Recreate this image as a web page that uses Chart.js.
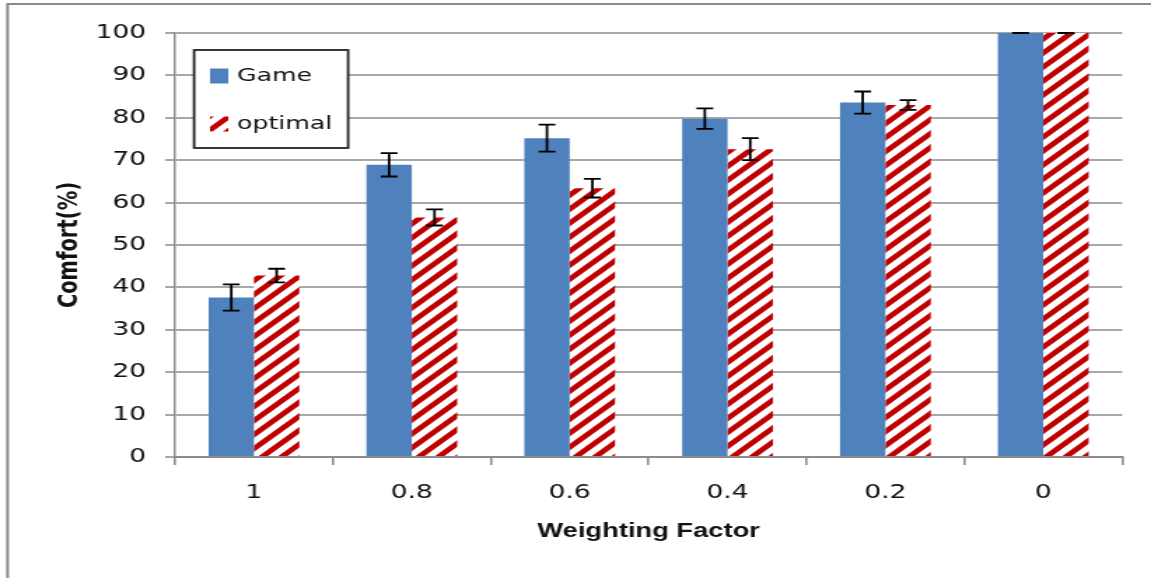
<!DOCTYPE html>
<html>
<head>
<meta charset="utf-8">
<script src="https://cdn.jsdelivr.net/npm/chart.js@4.4.1/dist/chart.umd.min.js"></script>
<style>
  html, body { margin: 0; padding: 0; background: #fff; }
</style>
</head>
<body>
<!-- el lienzo se dibuja a 822px y se estira a 1151px, como el gráfico original -->
<canvas id="grafico" width="822" height="578" style="width:1151px;height:578px;display:block"></canvas>
<script>
// =========================================================
// DATOS DEL GRÁFICO
// =========================================================
const categorias = ['1', '0.8', '0.6', '0.4', '0.2', '0'];
const valoresGame = [37.6, 68.9, 75.2, 79.8, 83.6, 100];
const erroresGame = [3.1, 2.75, 3.2, 2.4, 2.6, 0];
const valoresOptimal = [42.8, 56.5, 63.4, 72.6, 83.0, 100];
const erroresOptimal = [1.6, 1.9, 2.2, 2.6, 1.15, 0];
const ticksY = [0, 10, 20, 30, 40, 50, 60, 70, 80, 90, 100];

const AZUL = '#4f81bd';
const ROJO = '#c00000';
const TEXTO = '#111';

// Trama de rayas diagonales rojas sobre blanco
function crearTrama() {
    const P = 14;
    const c = document.createElement('canvas');
    c.width = P; c.height = P;
    const g = c.getContext('2d');
    g.fillStyle = '#fff';
    g.fillRect(0, 0, P, P);
    g.strokeStyle = ROJO;
    g.lineWidth = 4.6;
    g.beginPath();
    [0, P, 2 * P].forEach(k => {
        g.moveTo(-3, k + 3);
        g.lineTo(P + 3, k - P - 3);
    });
    g.stroke();
    return g.createPattern(c, 'repeat');
}

const canvas = document.getElementById('grafico');
const ctxGrafico = canvas.getContext('2d');
const trama = crearTrama();

// =========================================================
// PLUGINS: MARCO, BARRAS DE ERROR Y LEYENDA
// =========================================================
const pluginMarco = {
    id: 'marco',
    beforeDraw(chart) {
        const ctx = chart.ctx;
        ctx.save();
        ctx.strokeStyle = '#8a8a8a';
        ctx.lineWidth = 2;
        ctx.beginPath();
        ctx.moveTo(5.4, chart.height);
        ctx.lineTo(5.4, 4);
        ctx.lineTo(chart.width, 4);
        ctx.stroke();
        ctx.restore();
    }
};

const pluginErrores = {
    id: 'barrasError',
    afterDatasetsDraw(chart) {
        const ctx = chart.ctx;
        const escalaY = chart.scales.y;
        ctx.save();
        ctx.strokeStyle = '#000';
        ctx.lineWidth = 1.8;
        chart.data.datasets.forEach((ds, i) => {
            const meta = chart.getDatasetMeta(i);
            meta.data.forEach((barra, j) => {
                const v = ds.data[j];
                const e = ds.errores[j];
                const yArriba = escalaY.getPixelForValue(v + e);
                const yAbajo = escalaY.getPixelForValue(v - e);
                const x = barra.x;
                ctx.beginPath();
                ctx.moveTo(x, yArriba); ctx.lineTo(x, yAbajo);
                ctx.moveTo(x - 6, yArriba); ctx.lineTo(x + 6, yArriba);
                ctx.moveTo(x - 6, yAbajo); ctx.lineTo(x + 6, yAbajo);
                ctx.stroke();
            });
        });
        ctx.restore();
    }
};

const pluginLeyenda = {
    id: 'leyendaCaja',
    afterDraw(chart) {
        const ctx = chart.ctx;
        ctx.save();
        ctx.fillStyle = '#fff';
        ctx.fillRect(138.6, 50, 110, 98);
        ctx.strokeStyle = '#222';
        ctx.lineWidth = 1.8;
        ctx.strokeRect(138.6, 50, 110, 98);
        ctx.font = '18px "DejaVu Sans"';
        ctx.textBaseline = 'middle';
        ctx.textAlign = 'left';
        chart.data.datasets.forEach((ds, i) => {
            const yc = 76 + i * 48;
            ctx.fillStyle = ds.backgroundColor;
            ctx.fillRect(150, yc - 7.5, 13, 15);
            ctx.fillStyle = TEXTO;
            ctx.fillText(ds.label, 169.3, yc);
        });
        ctx.restore();
    }
};

// =========================================================
// GRÁFICO DE BARRAS
// =========================================================
new Chart(ctxGrafico, {
    type: 'bar',
    data: {
        labels: categorias,
        datasets: [
            { label: 'Game', data: valoresGame, errores: erroresGame, backgroundColor: AZUL, borderWidth: 0 },
            { label: 'optimal', data: valoresOptimal, errores: erroresOptimal, backgroundColor: trama, borderWidth: 0 }
        ]
    },
    options: {
        responsive: false,
        animation: false,
        devicePixelRatio: 1,
        layout: { padding: { left: 0, right: 20.6, top: 33, bottom: 0 } },
        datasets: { bar: { categoryPercentage: 0.575, barPercentage: 1.0 } },
        plugins: {
            legend: { display: false },
            tooltip: { enabled: false }
        },
        scales: {
            x: {
                grid: { drawOnChartArea: false, drawTicks: true, tickLength: 8, color: '#8c8c8c', lineWidth: 1.6 },
                border: { color: '#8c8c8c', width: 2 },
                ticks: { color: TEXTO, padding: 16.6, font: { family: 'DejaVu Sans', size: 19 } },
                title: {
                    display: true, text: 'Weighting Factor', color: TEXTO,
                    font: { family: 'Liberation Sans', size: 19.5, weight: 'bold' },
                    padding: { top: 0, bottom: 34.8 }
                },
                afterFit: s => { s.height = 121; }
            },
            y: {
                min: 0, max: 100,
                afterBuildTicks: s => { s.ticks = ticksY.map(v => ({ value: v })); },
                grid: { color: '#a8a8a8', lineWidth: 2, tickLength: 7 },
                border: { color: '#8c8c8c', width: 1.5 },
                ticks: { color: TEXTO, padding: 13.6, font: { family: 'DejaVu Sans', size: 19 } },
                title: {
                    display: true, text: 'Comfort(%)', color: TEXTO,
                    font: { family: 'DejaVu Sans', size: 19.5, weight: 'bold' },
                    padding: { top: 38, bottom: 0 }
                },
                afterFit: s => { s.width = 125; }
            }
        }
    },
    plugins: [pluginMarco, pluginErrores, pluginLeyenda]
});
</script>
</body>
</html>
